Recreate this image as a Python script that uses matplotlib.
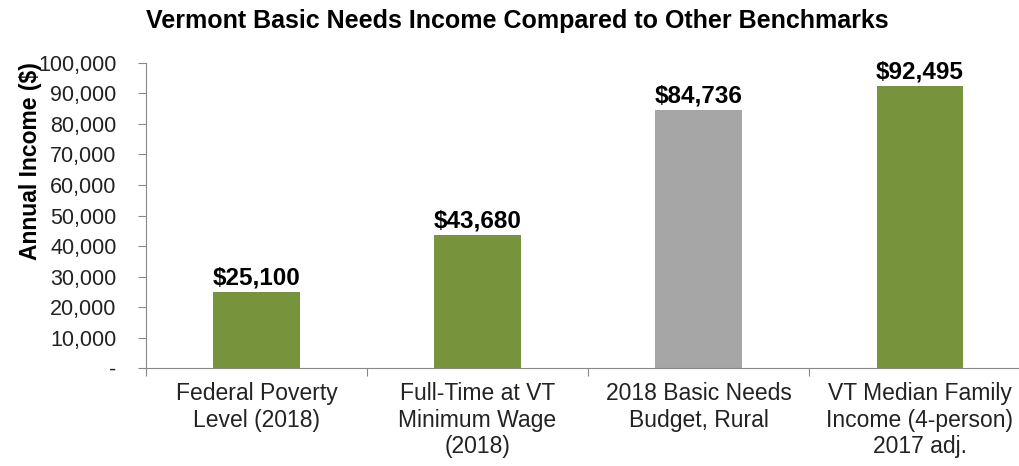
import matplotlib.pyplot as plt
from matplotlib.ticker import FuncFormatter

plt.rcParams['font.family'] = ['Liberation Sans', 'DejaVu Sans']

# data
categories = ["Federal Poverty\nLevel (2018)",
              "Full-Time at VT\nMinimum Wage\n(2018)",
              "2018 Basic Needs\nBudget, Rural",
              "VT Median Family\nIncome (4-person)\n2017 adj."]
values = [25100, 43680, 84736, 92495]
colors = ["#77933C", "#77933C", "#A6A6A6", "#77933C"]

fig = plt.figure(figsize=(10.2, 4.66), dpi=100)
ax = fig.add_axes([0.143, 0.21, 0.867, 0.655])

x = range(len(values))
ax.bar(x, values, width=0.39, color=colors)

for i, v in enumerate(values):
    ax.text(i, v + 600, f"${v:,}", ha="center", va="bottom",
            fontsize=17.5, fontweight="bold", color="black")

ax.set_xlim(-0.5, 3.5)
ax.set_ylim(0, 100000)
ax.set_yticks(range(0, 100001, 10000))
ax.yaxis.set_major_formatter(FuncFormatter(lambda v, p: "-" if v == 0 else f"{int(v):,}"))
ax.set_xticks([i + 0.5 for i in range(-1, 4)], minor=False)
ax.set_xticklabels([""] * 5)
ax.set_xticks(list(x), minor=True)
ax.set_xticklabels(categories, minor=True, fontsize=16.5, color="#222222")
ax.tick_params(axis="x", which="minor", length=0, pad=10)
ax.tick_params(axis="x", which="major", length=6, color="#888888", direction="out")
ax.tick_params(axis="y", length=6, color="#888888", labelsize=15.5, labelcolor="#222222", pad=15)

for side in ["top", "right"]:
    ax.spines[side].set_visible(False)
ax.spines["left"].set_color("#888888")
ax.spines["bottom"].set_color("#888888")

ax.set_ylabel("Annual Income ($)", fontsize=16.5, fontweight="bold")
ax.yaxis.set_label_coords(-0.118, 0.68)

fig.text(0.507, 0.955, "Vermont Basic Needs Income Compared to Other Benchmarks",
         ha="center", va="center", fontsize=18, fontweight="bold")

fig.savefig("out.png", dpi=100)
